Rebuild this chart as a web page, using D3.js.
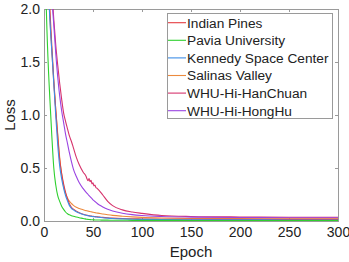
<!DOCTYPE html>
<html>
<head>
<meta charset="utf-8">
<script src="https://cdn.jsdelivr.net/npm/d3@7"></script>
<style>
  body { margin: 0; background: #fff; }
  svg text { font-family: "Liberation Sans", Arial, Helvetica, sans-serif; fill: #222; }
</style>
</head>
<body>
<div id="chart"></div>
<script>
const epochs = [0, 2, 4, 6, 8, 10, 12, 14, 16, 18, 20, 22, 24, 26, 28, 30, 33, 36, 40, 43,
  44, 45, 46, 47, 48, 49, 50, 51, 52, 53, 54, 55, 57, 60, 65, 70, 80, 90, 100, 120, 150, 200, 250, 300];

const indianPines = [4.0, 3.1, 2.45, 2.0, 1.65, 1.33, 1.05, 0.8, 0.58, 0.45, 0.35, 0.27, 0.21, 0.16, 0.13, 0.112, 0.093, 0.078, 0.064, 0.056,
  0.054, 0.052, 0.05, 0.048, 0.047, 0.045, 0.044, 0.043, 0.042, 0.041, 0.04, 0.039, 0.037, 0.034, 0.03, 0.027, 0.023, 0.021, 0.019, 0.017, 0.016, 0.015, 0.015, 0.015];
const paviaUniversity = [3.4, 2.15, 1.55, 1.15, 0.8, 0.5, 0.34, 0.24, 0.185, 0.14, 0.11, 0.085, 0.068, 0.058, 0.05, 0.044, 0.037, 0.031, 0.024, 0.018,
  0.016, 0.015, 0.014, 0.013, 0.012, 0.012, 0.011, 0.011, 0.01, 0.01, 0.01, 0.009, 0.009, 0.008, 0.008, 0.007, 0.007, 0.006, 0.006, 0.006, 0.005, 0.005, 0.005, 0.005];
const kennedySpace = [3.8, 2.9, 2.3, 1.9, 1.6, 1.3, 0.99, 0.72, 0.52, 0.4, 0.31, 0.24, 0.19, 0.145, 0.12, 0.105, 0.088, 0.075, 0.062, 0.054,
  0.052, 0.05, 0.048, 0.046, 0.045, 0.043, 0.041, 0.04, 0.039, 0.038, 0.037, 0.036, 0.034, 0.031, 0.027, 0.024, 0.02, 0.017, 0.015, 0.013, 0.012, 0.011, 0.01, 0.01];
const salinasValley = [3.9, 2.95, 2.35, 1.92, 1.6, 1.3, 1.05, 0.82, 0.6, 0.44, 0.33, 0.26, 0.215, 0.185, 0.165, 0.148, 0.13, 0.118, 0.106, 0.098,
  0.096, 0.093, 0.091, 0.089, 0.087, 0.085, 0.083, 0.081, 0.079, 0.077, 0.075, 0.074, 0.071, 0.066, 0.059, 0.053, 0.045, 0.039, 0.034, 0.028, 0.024, 0.022, 0.021, 0.02];
const hanChuan = [4.6, 3.5, 2.9, 2.5, 2.18, 1.9, 1.66, 1.47, 1.3, 1.15, 1.02, 0.94, 0.87, 0.8, 0.75, 0.69, 0.6, 0.53, 0.46, 0.42,
  0.395, 0.38, 0.4, 0.37, 0.385, 0.35, 0.36, 0.33, 0.34, 0.315, 0.31, 0.3, 0.28, 0.245, 0.185, 0.145, 0.105, 0.085, 0.072, 0.052, 0.043, 0.038, 0.036, 0.035];
const hongHu = [4.4, 3.4, 2.8, 2.4, 2.1, 1.85, 1.58, 1.36, 1.18, 1.04, 0.93, 0.82, 0.73, 0.64, 0.56, 0.49, 0.42, 0.36, 0.305, 0.27,
  0.26, 0.25, 0.24, 0.23, 0.22, 0.21, 0.2, 0.192, 0.184, 0.176, 0.168, 0.16, 0.148, 0.132, 0.11, 0.094, 0.073, 0.06, 0.052, 0.043, 0.037, 0.033, 0.031, 0.03];

const seriesNames = ["Indian Pines", "Pavia University", "Kennedy Space Center", "Salinas Valley", "WHU-Hi-HanChuan", "WHU-Hi-HongHu"];
const seriesValues = [indianPines, paviaUniversity, kennedySpace, salinasValley, hanChuan, hongHu];
const seriesColors = ["#e63b40", "#2fd02f", "#3d8de6", "#ec8a3e", "#d6336c", "#9a44e2"];
// draw order: back to front
const drawOrder = [4, 5, 3, 0, 2, 1];

const xTicks = [0, 50, 100, 150, 200, 250, 300];
const yTicks = [0, 0.5, 1.0, 1.5, 2.0];

const width = 349, height = 262;
const margin = { top: 9, right: 11, bottom: 41, left: 44 };

const svg = d3.select("#chart").append("svg")
  .attr("width", width)
  .attr("height", height);

const x = d3.scaleLinear().domain([0, 300]).range([margin.left, width - margin.right]);
const y = d3.scaleLinear().domain([0, 2]).range([height - margin.bottom, margin.top]);

const axisColor = "#9a9a9a";

// clip
svg.append("defs").append("clipPath").attr("id", "plot-clip")
  .append("rect")
  .attr("x", x(0)).attr("y", y(2))
  .attr("width", x(300) - x(0)).attr("height", y(0) - y(2));

// axes (ticks pointing inward, MATLAB-like box)
const xAxis = svg.append("g")
  .attr("transform", `translate(0,${y(0)})`)
  .call(d3.axisBottom(x).tickValues(xTicks).tickSize(-3).tickPadding(6).tickFormat(d3.format("d")));
const xAxisTop = svg.append("g")
  .attr("transform", `translate(0,${y(2)})`)
  .call(d3.axisTop(x).tickValues(xTicks).tickSize(-3).tickFormat(""));
const yAxis = svg.append("g")
  .attr("transform", `translate(${x(0)},0)`)
  .call(d3.axisLeft(y).tickValues(yTicks).tickSize(-3).tickPadding(4).tickFormat(d3.format(".1f")));
const yAxisRight = svg.append("g")
  .attr("transform", `translate(${x(300)},0)`)
  .call(d3.axisRight(y).tickValues(yTicks).tickSize(-3).tickFormat(""));

[xAxis, xAxisTop, yAxis, yAxisRight].forEach(g => {
  g.select(".domain").attr("stroke", axisColor);
  g.selectAll(".tick line").attr("stroke", axisColor);
  g.selectAll("text").style("font-size", "14px").attr("fill", "#222");
});

// lines
const line = d3.line()
  .x((d, i) => x(epochs[i]))
  .y(d => y(d))
  .curve(d3.curveMonotoneX);

const lines = svg.append("g").attr("clip-path", "url(#plot-clip)");
drawOrder.forEach(k => {
  lines.append("path")
    .datum(seriesValues[k])
    .attr("fill", "none")
    .attr("stroke", seriesColors[k])
    .attr("stroke-width", 1.1)
    .attr("d", line);
});

// axis titles
svg.append("text")
  .attr("x", (x(0) + x(300)) / 2)
  .attr("y", 257)
  .attr("text-anchor", "middle")
  .style("font-size", "15px")
  .text("Epoch");

svg.append("text")
  .attr("transform", `translate(15,${(y(0) + y(2)) / 2}) rotate(-90)`)
  .attr("text-anchor", "middle")
  .style("font-size", "15px")
  .text("Loss");

// legend
const legend = svg.append("g");
legend.append("rect")
  .attr("x", 167.5).attr("y", 13.5)
  .attr("width", 165).attr("height", 105)
  .attr("fill", "#fff")
  .attr("stroke", axisColor)
  .attr("stroke-width", 1);

const legendY = d3.scalePoint().domain(seriesNames).range([22.7, 110.7]);
seriesNames.forEach((name, k) => {
  const ly = legendY(name);
  legend.append("line")
    .attr("x1", 168).attr("x2", 186)
    .attr("y1", ly).attr("y2", ly)
    .attr("stroke", seriesColors[k])
    .attr("stroke-width", 1.1);
  legend.append("text")
    .attr("x", 187)
    .attr("y", ly)
    .attr("dy", "0.36em")
    .style("font-size", "13.7px")
    .text(name);
});
</script>
</body>
</html>
